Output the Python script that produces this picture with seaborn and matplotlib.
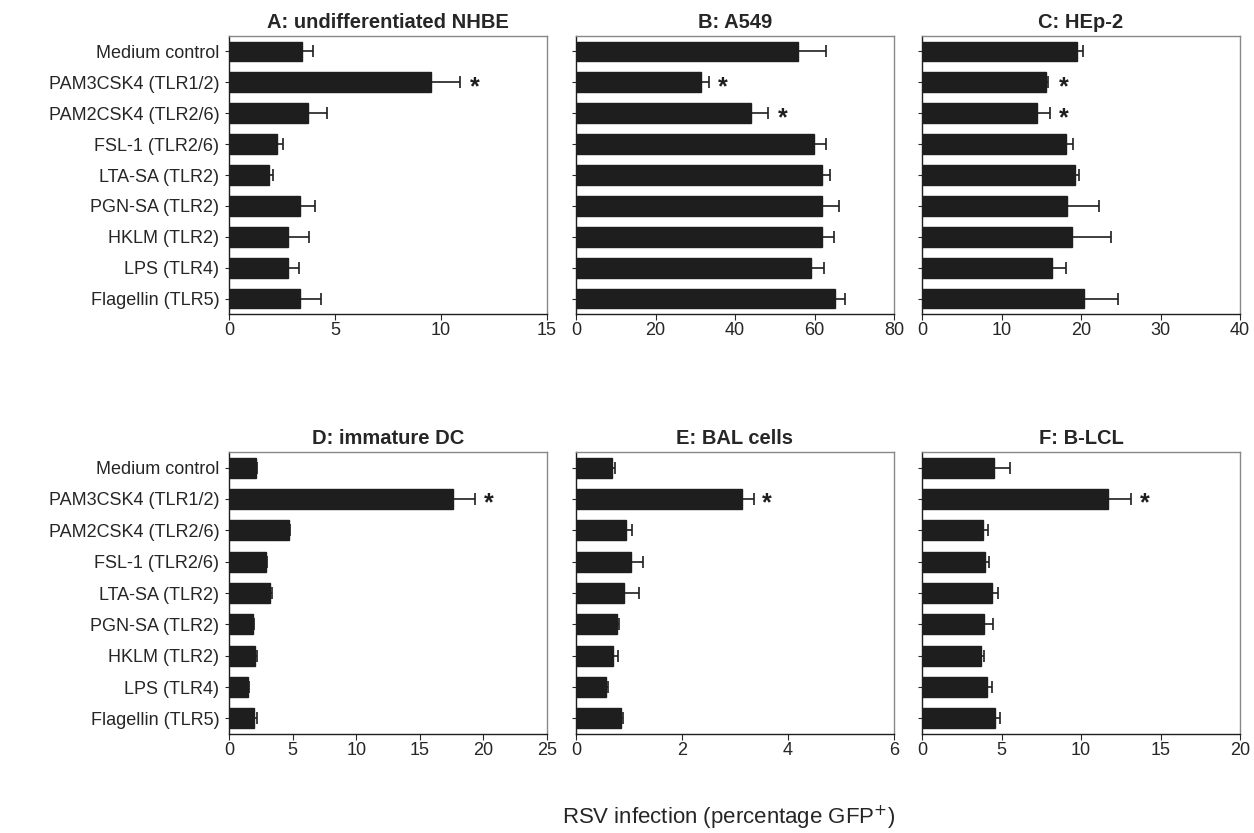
"""
RSV infection of different cell types after TLR ligand stimulation.
Saves out.png.
"""

import numpy as np
import matplotlib.pyplot as plt
import seaborn as sns

sns.set_theme(style="white")
plt.rcParams["font.family"] = ["Liberation Sans", "DejaVu Sans"]

treatments = [
    "Medium control", "PAM3CSK4 (TLR1/2)", "PAM2CSK4 (TLR2/6)", "FSL-1 (TLR2/6)",
    "LTA-SA (TLR2)", "PGN-SA (TLR2)", "HKLM (TLR2)", "LPS (TLR4)", "Flagellin (TLR5)",
]

titles = ["A: undifferentiated NHBE", "B: A549", "C: HEp-2",
          "D: immature DC", "E: BAL cells", "F: B-LCL"]
xmax = [15, 80, 40, 25, 6, 20]
xstep = [5, 20, 10, 5, 2, 5]

nhbe_mean = [3.43, 9.54, 3.73, 2.25, 1.87, 3.37, 2.80, 2.80, 3.37]
nhbe_err = [0.55, 1.36, 0.90, 0.29, 0.20, 0.71, 0.95, 0.50, 0.96]
a549_mean = [55.8, 31.5, 44.0, 59.8, 61.8, 61.9, 61.9, 59.1, 65.1]
a549_err = [7.2, 1.9, 4.2, 3.0, 2.0, 4.2, 2.9, 3.4, 2.5]
hep2_mean = [19.5, 15.6, 14.45, 18.15, 19.2, 18.3, 18.9, 16.3, 20.4]
hep2_err = [0.7, 0.3, 1.7, 0.85, 0.55, 4.0, 4.9, 1.8, 4.2]
dc_mean = [2.15, 17.6, 4.72, 2.89, 3.23, 1.89, 2.07, 1.47, 1.97]
dc_err = [0.05, 1.75, 0.06, 0.13, 0.13, 0.06, 0.16, 0.08, 0.26]
bal_mean = [0.67, 3.14, 0.94, 1.03, 0.90, 0.77, 0.69, 0.57, 0.84]
bal_err = [0.06, 0.21, 0.11, 0.23, 0.29, 0.05, 0.11, 0.04, 0.04]
blcl_mean = [4.55, 11.67, 3.86, 3.95, 4.43, 3.90, 3.74, 4.07, 4.62]
blcl_err = [0.99, 1.47, 0.30, 0.27, 0.33, 0.57, 0.17, 0.31, 0.31]

# significance stars: (category index, x position)
nhbe_stars = [(1, 11.6)]
a549_stars = [(1, 37.0), (2, 52.0)]
hep2_stars = [(1, 17.8), (2, 17.8)]
dc_stars = [(1, 20.4)]
bal_stars = [(1, 3.6)]
blcl_stars = [(1, 14.0)]

means = [nhbe_mean, a549_mean, hep2_mean, dc_mean, bal_mean, blcl_mean]
errs = [nhbe_err, a549_err, hep2_err, dc_err, bal_err, blcl_err]
stars = [nhbe_stars, a549_stars, hep2_stars, dc_stars, bal_stars, blcl_stars]

W, H = 1254, 833
fig = plt.figure(figsize=(W / 100, H / 100), dpi=100)

lefts = [229, 576, 922]
width = 318
rows = [(36, 314), (452, 734)]

for i in range(6):
    r, c = divmod(i, 3)
    top, bot = rows[r]
    ax = fig.add_axes([lefts[c] / W, 1 - bot / H, width / W, (bot - top) / H])

    sns.barplot(x=means[i], y=treatments, orient="h", color="#1e1e1e",
                edgecolor="#1e1e1e", width=0.64, errorbar=None, saturation=1, ax=ax)
    ypos = np.arange(len(treatments))
    ax.errorbar(means[i], ypos, xerr=[np.zeros(len(treatments)), errs[i]],
                fmt="none", ecolor="#1e1e1e", elinewidth=1.2, capsize=4, capthick=1.2)
    for idx, xs in stars[i]:
        ax.text(xs, idx + 0.15, "*", ha="center", va="center",
                fontsize=18, fontweight="bold", color="#1e1e1e")

    ax.set_xlim(0, xmax[i])
    ax.set_ylim(len(treatments) - 0.5, -0.5)
    ticks = np.arange(0, xmax[i] + 0.01, xstep[i])
    ax.set_xticks(ticks)
    ax.set_xticklabels([f"{v:g}" for v in ticks], fontsize=13)
    ax.set_xlabel("")
    ax.set_ylabel("")
    if c == 0:
        ax.tick_params(axis="y", labelsize=13, length=3, width=0.8, direction="out", left=True, pad=4)
    else:
        ax.tick_params(axis="y", labelleft=False, length=3, width=0.8, direction="out", left=True)
    ax.tick_params(axis="x", length=4, width=0.8, direction="out", bottom=True, pad=2)
    ax.set_title(titles[i], fontsize=14.5, fontweight="bold", pad=6)

    for side in ["left", "bottom"]:
        ax.spines[side].set_color("#1e1e1e")
        ax.spines[side].set_linewidth(1.0)
    for side in ["top", "right"]:
        ax.spines[side].set_color("#888888")
        ax.spines[side].set_linewidth(1.0)

fig.text(729 / W, 1 - 818 / H, "RSV infection (percentage GFP$^{+}$)",
         ha="center", va="center", fontsize=16)

fig.savefig("out.png", dpi=100)
